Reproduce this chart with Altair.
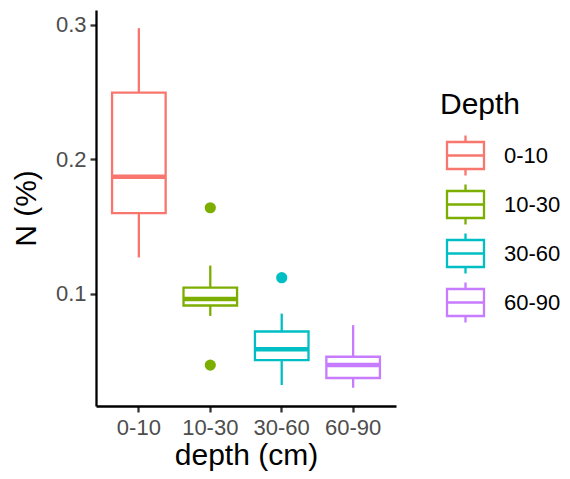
import altair as alt
import pandas as pd

depths = ["0-10", "10-30", "30-60", "60-90"]
lower = [0.127, 0.0836, 0.0322, 0.0302]
q1 = [0.160, 0.0913, 0.0507, 0.0374]
median = [0.187, 0.0962, 0.0587, 0.047]
q3 = [0.2495, 0.1046, 0.072, 0.0532]
upper = [0.2975, 0.121, 0.0853, 0.0767]

out_depth = ["10-30", "10-30", "30-60"]
out_value = [0.164, 0.047, 0.112]

colors = ["#F8766D", "#7CAE00", "#00BFC4", "#C77CFF"]

stats = pd.DataFrame({"depth": depths, "grp": depths, "lower": lower,
                      "q1": q1, "median": median, "q3": q3, "upper": upper})
outs = pd.DataFrame({"depth": out_depth, "grp": out_depth,
                     "value": out_value})

FONT = "Liberation Sans"

xscale = alt.Scale(domain=depths, paddingInner=0.25, paddingOuter=0.225)
yscale = alt.Scale(domain=[0.0166, 0.311], nice=False, zero=False)
cscale = alt.Scale(domain=depths, range=colors)

x_enc = alt.X("depth:N", scale=xscale, sort=depths,
              axis=alt.Axis(title="depth (cm)", labelAngle=0))
y_axis = alt.Axis(title="N (%)", values=[0.1, 0.2, 0.3], format=".1f")

legend = alt.Legend(title="Depth", symbolFillColor="transparent")
stroke_enc = alt.Stroke("depth:N", scale=cscale, legend=legend)
fill_enc = alt.Fill("grp:N", scale=cscale, legend=None)

base = alt.Chart(stats)

whisk_lo = base.mark_rule(strokeWidth=2.3).encode(
    x=x_enc,
    y=alt.Y("lower:Q", scale=yscale, axis=y_axis),
    y2="q1:Q",
    stroke=stroke_enc,
)

whisk_hi = base.mark_rule(strokeWidth=2.3).encode(
    x=x_enc,
    y=alt.Y("q3:Q", scale=yscale, axis=y_axis),
    y2="upper:Q",
    stroke=stroke_enc,
)

box = base.mark_bar(filled=False, strokeWidth=2.3).encode(
    x=x_enc,
    y=alt.Y("q1:Q", scale=yscale, axis=y_axis),
    y2="q3:Q",
    stroke=stroke_enc,
)

med = base.mark_tick(orient="horizontal", thickness=4.5, size=53,
                     opacity=1).encode(
    x=x_enc,
    y=alt.Y("median:Q", scale=yscale, axis=y_axis),
    fill=fill_enc,
)

pts = alt.Chart(outs).mark_circle(size=125, opacity=1).encode(
    x=x_enc,
    y=alt.Y("value:Q", scale=yscale, axis=y_axis),
    fill=fill_enc,
)

symbol_path = ("M-0.925,-0.675H0.925V0.675H-0.925Z"
               "M-0.925,0H0.925"
               "M0,-0.675V-1"
               "M0,0.675V1")

chart = alt.layer(whisk_lo, whisk_hi, box, med, pts).properties(
    width=300, height=396,
    autosize=alt.AutoSizeParams(type="none"),
    padding={"left": 88, "top": 2, "right": 166, "bottom": 65},
).resolve_scale(fill="independent").configure_view(stroke=None).configure_axis(
    domainColor="black", domainWidth=2.3, tickColor="#333333",
    tickWidth=2.3, tickSize=6, labelColor="#4D4D4D", labelFont=FONT,
    labelFontSize=22, titleFont=FONT, titleFontSize=30,
    titleFontWeight="normal", titleColor="black", grid=False,
).configure_axisX(labelPadding=5, titlePadding=2).configure_axisY(
    labelPadding=4, titlePadding=14,
).configure_legend(
    orient="none", legendX=344, legendY=80, padding=0,
    titleFont=FONT, titleFontSize=30, titleFontWeight="normal",
    titleColor="black", titlePadding=14,
    labelFont=FONT, labelFontSize=22, labelColor="black", labelOffset=17,
    symbolType=symbol_path, symbolSize=1600, symbolStrokeWidth=2.3,
    symbolFillColor="transparent", rowPadding=-2, symbolOffset=4,
)

chart.save("out.html", embed_options={"renderer": "svg", "actions": False})
